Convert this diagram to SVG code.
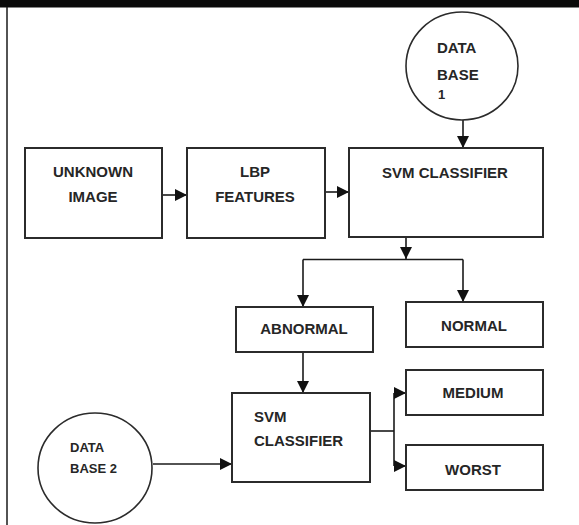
<svg xmlns="http://www.w3.org/2000/svg" width="579" height="525" viewBox="0 0 579 525">
<style>
.box{fill:#fff;stroke:#2b2b2b;stroke-width:2}
.circ{fill:#fff;stroke:#2b2b2b;stroke-width:1.6}
.t{font-family:"Liberation Sans",Arial,sans-serif;font-weight:bold;font-size:15px;fill:#262626}
.ts{font-family:"Liberation Sans",Arial,sans-serif;font-weight:bold;font-size:13px;fill:#262626}
.c{text-anchor:middle}
.ln{fill:none;stroke:#1a1a1a;stroke-width:1.6}
</style>
<defs>
<marker id="ah" markerUnits="userSpaceOnUse" markerWidth="12" markerHeight="12" viewBox="0 0 12 12" refX="12" refY="6" orient="auto">
<path d="M0,0 L12,6 L0,12 Z" fill="#111"/>
</marker>
</defs>
<rect width="579" height="525" fill="#fff"/>
<rect x="0" y="0" width="579" height="7.5" fill="#0a0a0a"/>
<line x1="7" y1="7" x2="7" y2="525" stroke="#1a1a1a" stroke-width="1.5"/>

<g id="connectors">
<line class="ln" x1="463" y1="120" x2="463" y2="148" marker-end="url(#ah)"/>
<line class="ln" x1="162" y1="195" x2="187" y2="195" marker-end="url(#ah)"/>
<line class="ln" x1="325" y1="192" x2="349" y2="192" marker-end="url(#ah)"/>
<line class="ln" x1="406" y1="238" x2="406" y2="259" marker-end="url(#ah)"/>
<line class="ln" x1="303" y1="259.5" x2="463" y2="259.5"/>
<line class="ln" x1="303" y1="259.5" x2="303" y2="307" marker-end="url(#ah)"/>
<line class="ln" x1="463" y1="259.5" x2="463" y2="302" marker-end="url(#ah)"/>
<line class="ln" x1="303" y1="352" x2="303" y2="393" marker-end="url(#ah)"/>
<line class="ln" x1="370" y1="431" x2="394" y2="431"/>
<line class="ln" x1="394" y1="393" x2="394" y2="466"/>
<line class="ln" x1="394" y1="393" x2="406" y2="393" marker-end="url(#ah)"/>
<line class="ln" x1="394" y1="466" x2="406" y2="466" marker-end="url(#ah)"/>
<line class="ln" x1="153" y1="464" x2="232" y2="464" marker-end="url(#ah)"/>
</g>

<g id="database1">
<ellipse class="circ" cx="462" cy="66" rx="56" ry="54"/>
<text class="t" x="437" y="53">DATA</text>
<text class="t" x="437" y="80">BASE</text>
<text class="ts" x="438" y="99" font-size="8">1</text>
</g>

<g id="unknown-image">
<rect class="box" x="25" y="148" width="137" height="90"/>
<text class="t c" x="93" y="177">UNKNOWN</text>
<text class="t c" x="93" y="202">IMAGE</text>
</g>

<g id="lbp-features">
<rect class="box" x="187" y="148" width="138" height="90"/>
<text class="t c" x="255" y="177">LBP</text>
<text class="t c" x="255" y="202">FEATURES</text>
</g>

<g id="svm-classifier-1">
<rect class="box" x="349" y="148" width="194" height="89"/>
<text class="t c" x="445" y="178">SVM CLASSIFIER</text>
</g>

<g id="abnormal">
<rect class="box" x="236" y="307" width="137" height="45"/>
<text class="t c" x="304" y="334">ABNORMAL</text>
</g>

<g id="normal">
<rect class="box" x="406" y="302" width="137" height="45"/>
<text class="t c" x="474" y="331">NORMAL</text>
</g>

<g id="svm-classifier-2">
<rect class="box" x="232" y="393" width="138" height="89"/>
<text class="t" x="254" y="422">SVM</text>
<text class="t" x="254" y="446">CLASSIFIER</text>
</g>

<g id="medium">
<rect class="box" x="406" y="370" width="137" height="45"/>
<text class="t c" x="473" y="398">MEDIUM</text>
</g>

<g id="worst">
<rect class="box" x="406" y="445" width="137" height="45"/>
<text class="t c" x="473" y="475">WORST</text>
</g>

<g id="database2">
<ellipse class="circ" cx="95" cy="468" rx="57" ry="55"/>
<text class="ts" x="70" y="452">DATA</text>
<text class="ts" x="70" y="473">BASE 2</text>
</g>
</svg>
